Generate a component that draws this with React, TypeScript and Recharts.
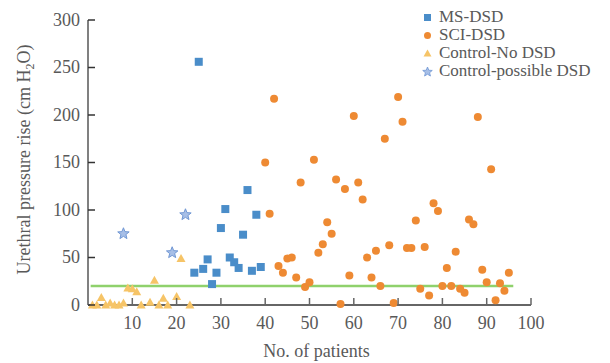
import { ScatterChart, Scatter, XAxis, YAxis, ReferenceLine, Legend, Label } from 'recharts';

// patient number / urethral pressure rise (cm H2O)
const msX = [24, 25, 26, 27, 28, 29, 30, 31, 32, 33, 34, 35, 36, 37, 38, 39];
const msY = [34, 256, 38, 48, 22, 34, 81, 101, 50, 45, 39, 74, 121, 36, 95, 40];

const sciX = [40, 41, 42, 43, 44, 45, 46, 47, 48, 49, 50, 51, 52, 53, 54, 55, 56, 57, 58, 59,
  60, 61, 62, 63, 64, 65, 66, 67, 68, 69, 70, 71, 72, 73, 74, 75, 76, 77, 78, 79,
  80, 81, 82, 83, 84, 85, 86, 87, 88, 89, 90, 91, 92, 93, 94, 95];
const sciY = [150, 96, 217, 41, 34, 49, 50, 29, 129, 19, 24, 153, 55, 64, 87, 75, 132, 1, 122, 31,
  199, 129, 111, 50, 29, 57, 20, 175, 63, 2, 219, 193, 60, 60, 89, 17, 61, 10, 107, 99,
  20, 39, 20, 56, 17, 13, 90, 85, 198, 37, 24, 143, 5, 23, 15, 34];

const noDsdX = [1, 2, 3, 4, 5, 6, 7, 8, 9, 10, 11, 12, 14, 15, 16, 17, 18, 20, 21, 23];
const noDsdY = [0, 0, 8, 0, 2, 0, 0, 2, 18, 17, 14, 0, 3, 26, 0, 7, 0, 9, 49, 0];

const possibleX = [8, 19, 22];
const possibleY = [75, 55, 95];

const xTicks = [10, 20, 30, 40, 50, 60, 70, 80, 90, 100];
const yTicks = [0, 50, 100, 150, 200, 250, 300];

const thresholdY = 20;
const thresholdFrom = 0.6;
const thresholdTo = 96;

const zip = (xs: number[], ys: number[]) => xs.map((x, i) => ({ x, y: ys[i] }));

const FONT = '"Liberation Serif", "DejaVu Serif", serif';
const TEXT = '#595959';

const BLUE = '#4a8dc9';
const ORANGE = '#ee8a33';
const YELLOW = '#f6c467';
const STAR_FILL = '#a7bfe7';
const STAR_STROKE = '#7097d4';
const GREEN = '#8fd16c';

const starPoints = (cx: number, cy: number, ro: number, ri: number) => {
  const pts: string[] = [];
  for (let i = 0; i < 10; i++) {
    const r = i % 2 === 0 ? ro : ri;
    const a = -Math.PI / 2 + (i * Math.PI) / 5;
    pts.push(`${cx + r * Math.cos(a)},${cy + r * Math.sin(a)}`);
  }
  return pts.join(' ');
};

const SquareShape = (p: any) => <rect x={p.cx - 4} y={p.cy - 4} width={8} height={8} fill={BLUE} />;
const DotShape = (p: any) => <circle cx={p.cx} cy={p.cy} r={4} fill={ORANGE} />;
const TriShape = (p: any) => (
  <polygon points={`${p.cx},${p.cy - 4.5} ${p.cx - 4.5},${p.cy + 3.5} ${p.cx + 4.5},${p.cy + 3.5}`} fill={YELLOW} />
);
const StarShape = (p: any) => (
  <polygon points={starPoints(p.cx, p.cy, 6, 2.6)} fill={STAR_FILL} stroke={STAR_STROKE} strokeWidth={1} />
);

const XTick = ({ x, y, payload }: any) => (
  <g>
    <line x1={x} x2={x} y1={y} y2={y - 7} stroke="#666" strokeWidth={1.5} />
    <text x={x} y={y + 24} textAnchor="middle" fontSize={18} fontFamily={FONT} fill={TEXT}>{payload.value}</text>
  </g>
);

const YTick = ({ x, y, payload }: any) => (
  <g>
    <line x1={x} x2={x + 7} y1={y} y2={y} stroke="#333" strokeWidth={1.5} />
    <text x={x - 8} y={y} dy="0.33em" textAnchor="end" fontSize={18} fontFamily={FONT} fill={TEXT}>{payload.value}</text>
  </g>
);

const XTitle = ({ viewBox }: any) => (
  <text x={viewBox.x + viewBox.width / 2 + 7} y={viewBox.y + 52} textAnchor="middle" fontSize={18} fontFamily={FONT} fill={TEXT}>
    No. of patients
  </text>
);

const YTitle = ({ viewBox }: any) => {
  const cx = viewBox.x + 22;
  const cy = viewBox.y + viewBox.height / 2 - 3;
  return (
    <text x={cx} y={cy} transform={`rotate(-90 ${cx} ${cy})`} textAnchor="middle" fontSize={18} fontFamily={FONT} fill={TEXT}>
      Urethral pressure rise (cm H<tspan fontSize={12} dy={4}>2</tspan><tspan dy={-4}>O)</tspan>
    </text>
  );
};

const legendItems = [
  { name: 'MS-DSD', icon: <rect x={2} y={2} width={7} height={7} fill={BLUE} /> },
  { name: 'SCI-DSD', icon: <circle cx={5.5} cy={5.5} r={3.5} fill={ORANGE} /> },
  { name: 'Control-No DSD', icon: <polygon points="5.5,1.5 1.5,8.5 9.5,8.5" fill={YELLOW} /> },
  { name: 'Control-possible DSD', icon: <polygon points={starPoints(5.5, 6, 5, 2.2)} fill={STAR_FILL} stroke={STAR_STROKE} strokeWidth={0.8} /> },
];

const LegendBox = () => (
  <div style={{ fontFamily: FONT, fontSize: 17, color: TEXT, lineHeight: '18px' }}>
    {legendItems.map((it) => (
      <div key={it.name} style={{ display: 'flex', alignItems: 'center', height: 18, whiteSpace: 'nowrap' }}>
        <svg width={11} height={11} style={{ marginRight: 6 }}>{it.icon}</svg>
        <span>{it.name}</span>
      </div>
    ))}
  </div>
);

export default function App() {
  return (
    <ScatterChart width={600} height={355} margin={{ top: 12, right: 77, bottom: 0, left: 0 }}>
      <XAxis
        type="number"
        dataKey="x"
        domain={[0, 100]}
        ticks={xTicks}
        height={58}
        tickSize={0}
        tickMargin={0}
        tickLine={false}
        tick={<XTick />}
        axisLine={{ stroke: '#333', strokeWidth: 1.5 }}
      >
        <Label content={XTitle} />
      </XAxis>
      <YAxis
        type="number"
        dataKey="y"
        domain={[0, 300]}
        ticks={yTicks}
        width={80}
        tickSize={0}
        tickMargin={0}
        tickLine={false}
        tick={<YTick />}
        axisLine={{ stroke: '#808080', strokeWidth: 2 }}
      >
        <Label content={YTitle} />
      </YAxis>
      <Legend
        layout="vertical"
        align="center"
        verticalAlign="middle"
        content={<LegendBox />}
        wrapperStyle={{ position: 'absolute', top: 0, left: 414, width: 'auto' }}
      />
      <Scatter name="MS-DSD" data={zip(msX, msY)} shape={SquareShape} isAnimationActive={false} />
      <Scatter name="SCI-DSD" data={zip(sciX, sciY)} shape={DotShape} isAnimationActive={false} />
      <Scatter name="Control-No DSD" data={zip(noDsdX, noDsdY)} shape={TriShape} isAnimationActive={false} />
      <Scatter name="Control-possible DSD" data={zip(possibleX, possibleY)} shape={StarShape} isAnimationActive={false} />
      <ReferenceLine
        segment={[{ x: thresholdFrom, y: thresholdY }, { x: thresholdTo, y: thresholdY }]}
        stroke={GREEN}
        strokeWidth={2.5}
        ifOverflow="visible"
      />
    </ScatterChart>
  );
}
